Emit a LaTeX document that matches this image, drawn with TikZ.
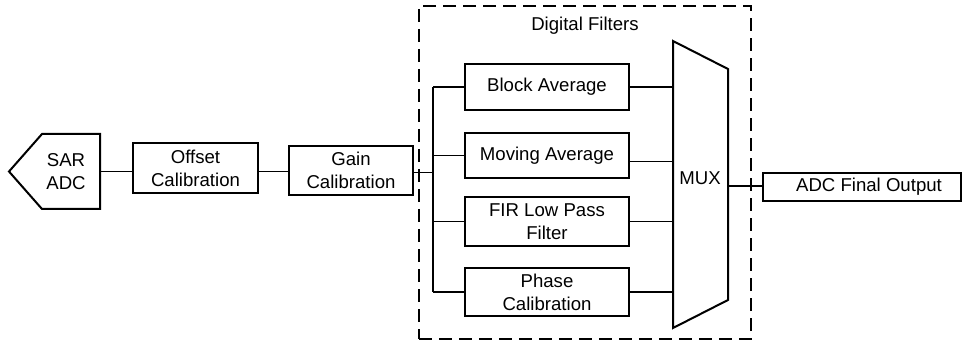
\documentclass[tikz,border=0pt]{standalone}
\usepackage{fontspec}
\setmainfont{Liberation Sans}
\usepackage{tikz}
\usetikzlibrary{positioning}

\tikzset{
  blk/.style={rectangle,draw,line width=1pt,inner sep=0pt,align=center},
  wire/.style={line width=0.55pt},
  groupbox/.style={rectangle,draw,line width=1pt,dash pattern=on 6.5pt off 3.5pt,inner sep=0pt}
}

\begin{document}
\begin{tikzpicture}[x=0.5pt,y=-0.5pt,font=\fontsize{9.3}{11.5}\selectfont]
\useasboundingbox (0,0) rectangle (965,342);

% Group
\node[groupbox,minimum width=166pt,minimum height=166.5pt] (filters) at (585,172.5) {};
\node[below=2.5pt of filters.north] (filterslabel) {Digital Filters};

% Source chain
\draw[line width=1pt] (9,171.5) -- (42,134) -- (100,134) -- (100,209) -- (42,209) -- cycle;
\node[align=center] (sar) at (66,171.5) {SAR\\ADC};
\coordinate (sarout) at (100,171.5);
\node[blk,minimum width=62.5pt,minimum height=25pt] (offset) at (195.5,168) {Offset\\Calibration};
\node[blk,minimum width=62pt,minimum height=24.5pt] (gain) at (351,170.5) {Gain\\Calibration};

% Filters
\node[blk,minimum width=82pt,minimum height=23pt] (block) at (547,87) {Block Average};
\node[blk,minimum width=82pt,minimum height=22.5pt] (moving) at (547,155.5) {Moving Average};
\node[blk,minimum width=82pt,minimum height=24.5pt] (fir) at (547,221.5) {FIR Low Pass\\Filter};
\node[blk,minimum width=82pt,minimum height=24pt] (phase) at (547,292) {Phase\\Calibration};

% Mux
\draw[line width=1pt] (673,41) -- (728,69) -- (728,300) -- (673,328) -- cycle;
\node (mux) at (700,178) {MUX};
\coordinate (muxin) at (673,186);
\coordinate (muxout) at (728,186);

% Output
\node[blk,minimum width=99pt,minimum height=14pt] (out) at (862,187) {\hspace{7pt}ADC Final Output};

% Bus
\coordinate (bus) at (433,172.5);
\draw[wire] (bus |- block) -- (bus |- phase);

% Connections
\draw[wire] (sarout) -- (sarout -| offset.west);
\draw[wire] (sarout -| offset.east) -- (sarout -| gain.west);
\draw[wire] (bus -| gain.east) -- (bus);
\draw[wire] (bus |- block) -- (block.west);
\draw[wire] (bus |- moving) -- (moving.west);
\draw[wire] (bus |- fir) -- (fir.west);
\draw[wire] (bus |- phase) -- (phase.west);
\draw[wire] (block.east) -- (block.east -| muxin);
\draw[wire] ([yshift=-3pt]moving.east) -- ([yshift=-3pt]moving.east -| muxin);
\draw[wire] (fir.east) -- (fir.east -| muxin);
\draw[wire] (phase.east) -- (phase.east -| muxin);
\draw[wire] (muxout) -- (muxout -| out.west);
\end{tikzpicture}
\end{document}
